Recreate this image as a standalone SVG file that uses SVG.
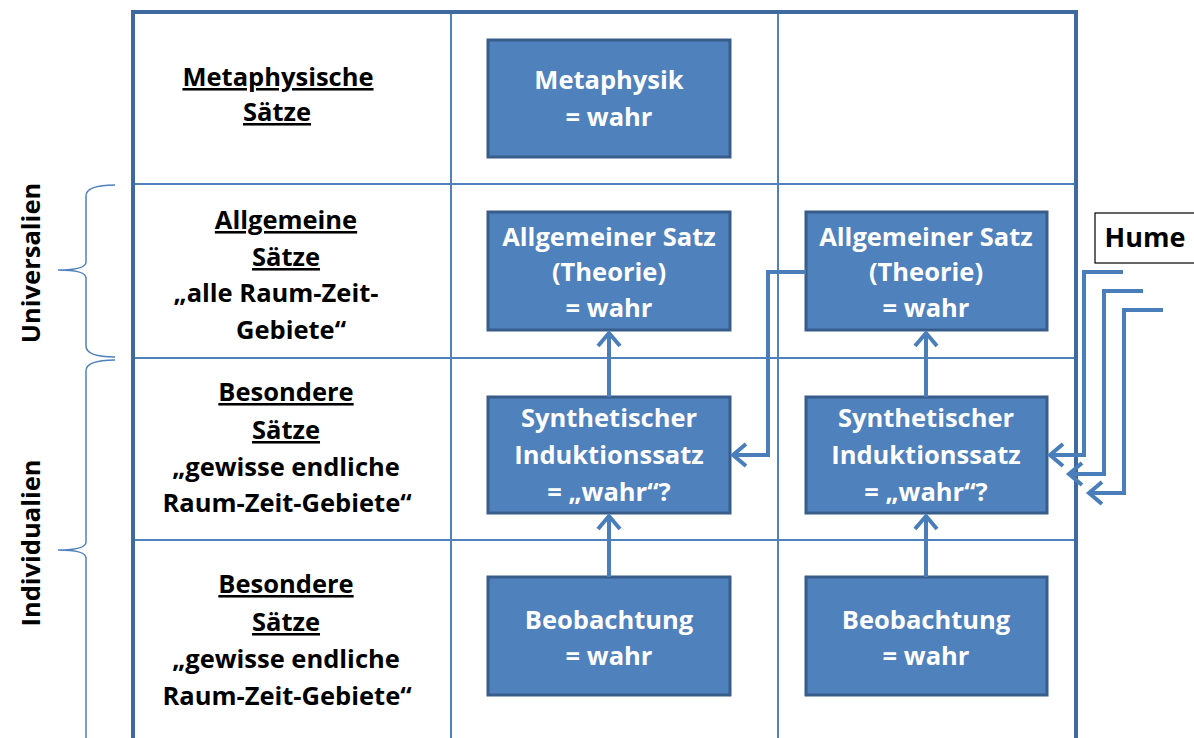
<svg xmlns="http://www.w3.org/2000/svg" width="1194" height="738" viewBox="0 0 1194 738">
  <style>
    .grid { fill: none; stroke: #4f81bd; stroke-width: 2; }
    .frame { fill: none; stroke: #3e6aa0; stroke-width: 4; }
    .box { fill: #4f81bd; stroke: #385d8a; stroke-width: 3; }
    .bt { font-family: "Open Sans", "Liberation Sans", sans-serif; font-weight: bold; font-size: 25.5px; fill: #ffffff; text-anchor: middle; }
    .lt { font-family: "Open Sans", "Liberation Sans", sans-serif; font-weight: bold; font-size: 25.5px; fill: #000000; text-anchor: middle; }
    .u { text-decoration: underline; }
    .conn { fill: none; stroke: #4a7ebb; stroke-width: 4; stroke-linejoin: miter; }
    .brace { fill: none; stroke: #4f81bd; stroke-width: 1.5; }
  </style>
  <defs>
    <marker id="open" markerUnits="userSpaceOnUse" markerWidth="30" markerHeight="30" refX="0" refY="0" viewBox="-16 -15 20 30" orient="auto" overflow="visible">
      <path d="M -13 -11 L 0 0 L -13 11" fill="none" stroke="#4a7ebb" stroke-width="4"/>
    </marker>
  </defs>

  <rect width="1194" height="738" fill="#ffffff"/>

  <!-- table grid -->
  <g id="table">
    <line class="grid" x1="451" y1="12" x2="451" y2="738"/>
    <line class="grid" x1="778" y1="12" x2="778" y2="738"/>
    <line class="grid" x1="133" y1="184" x2="1076" y2="184"/>
    <line class="grid" x1="133" y1="358" x2="1076" y2="358"/>
    <line class="grid" x1="133" y1="540" x2="1076" y2="540"/>
    <path class="frame" d="M133,740 L133,12 L1076,12 L1076,740"/>
  </g>

  <!-- side braces -->
  <g id="universalien">
    <path class="brace" d="M115,185 Q86,185 86,196 L86,262 Q86,270 58,270 Q86,270 86,278 L86,346 Q86,357 115,357"/>
    <text class="lt" transform="translate(40,263) rotate(-90)">Universalien</text>
  </g>
  <g id="individualien">
    <path class="brace" d="M115,360 Q86,360 86,371 L86,542 Q86,550 58,550 Q86,550 86,558 L86,740"/>
    <text class="lt" transform="translate(40,543) rotate(-90)">Individualien</text>
  </g>

  <!-- row labels -->
  <g id="label-metaphysisch">
    <text class="lt u" x="278" y="86">Metaphysische</text>
    <text class="lt u" x="277" y="121">Sätze</text>
  </g>
  <g id="label-allgemein">
    <text class="lt u" x="286" y="229">Allgemeine</text>
    <text class="lt u" x="286" y="266">Sätze</text>
    <text class="lt" x="276" y="302">„alle Raum-Zeit-</text>
    <text class="lt" x="291" y="339">Gebiete“</text>
  </g>
  <g id="label-besonders-1">
    <text class="lt u" x="286" y="401">Besondere</text>
    <text class="lt u" x="286" y="439">Sätze</text>
    <text class="lt" x="286" y="476">„gewisse endliche</text>
    <text class="lt" x="287" y="512">Raum-Zeit-Gebiete“</text>
  </g>
  <g id="label-besonders-2">
    <text class="lt u" x="286" y="593">Besondere</text>
    <text class="lt u" x="286" y="631">Sätze</text>
    <text class="lt" x="286" y="668">„gewisse endliche</text>
    <text class="lt" x="287" y="705">Raum-Zeit-Gebiete“</text>
  </g>

  <!-- nodes -->
  <g id="metaphysik">
    <rect class="box" x="488" y="40" width="242" height="117"/>
    <text class="bt" x="609" y="89">Metaphysik</text>
    <text class="bt" x="609" y="126">= wahr</text>
  </g>
  <g id="theorie-1">
    <rect class="box" x="488" y="212" width="242" height="118"/>
    <text class="bt" x="609" y="246">Allgemeiner Satz</text>
    <text class="bt" x="609" y="281">(Theorie)</text>
    <text class="bt" x="609" y="317">= wahr</text>
  </g>
  <g id="theorie-2">
    <rect class="box" x="806" y="212" width="241" height="118"/>
    <text class="bt" x="926" y="246">Allgemeiner Satz</text>
    <text class="bt" x="926" y="281">(Theorie)</text>
    <text class="bt" x="926" y="317">= wahr</text>
  </g>
  <g id="induktion-1">
    <rect class="box" x="488" y="397" width="242" height="116"/>
    <text class="bt" x="609" y="427">Synthetischer</text>
    <text class="bt" x="609" y="464">Induktionssatz</text>
    <text class="bt" x="609" y="501">= „wahr“?</text>
  </g>
  <g id="induktion-2">
    <rect class="box" x="806" y="397" width="241" height="116"/>
    <text class="bt" x="926" y="427">Synthetischer</text>
    <text class="bt" x="926" y="464">Induktionssatz</text>
    <text class="bt" x="926" y="501">= „wahr“?</text>
  </g>
  <g id="beobachtung-1">
    <rect class="box" x="488" y="577" width="242" height="118"/>
    <text class="bt" x="609" y="629">Beobachtung</text>
    <text class="bt" x="609" y="665">= wahr</text>
  </g>
  <g id="beobachtung-2">
    <rect class="box" x="806" y="577" width="241" height="118"/>
    <text class="bt" x="926" y="629">Beobachtung</text>
    <text class="bt" x="926" y="665">= wahr</text>
  </g>
  <g id="hume">
    <rect x="1095" y="213" width="110" height="50" fill="#ffffff" stroke="#000000" stroke-width="1.2"/>
    <text class="lt" x="1145" y="247" style="font-size:27px">Hume</text>
  </g>

  <!-- connectors -->
  <g id="connectors">
    <path class="conn" d="M609,577 L609,516" marker-end="url(#open)"/>
    <path class="conn" d="M609,397 L609,333" marker-end="url(#open)"/>
    <path class="conn" d="M926,577 L926,516" marker-end="url(#open)"/>
    <path class="conn" d="M926,397 L926,333" marker-end="url(#open)"/>
    <path class="conn" d="M806,272 L768,272 L768,455 L733,455" marker-end="url(#open)"/>
    <path class="conn" d="M1123,272 L1084,272 L1084,455 L1050,455" marker-end="url(#open)"/>
    <path class="conn" d="M1143,291 L1104,291 L1104,474 L1069,474" marker-end="url(#open)"/>
    <path class="conn" d="M1163,310 L1124,310 L1124,493 L1089,493" marker-end="url(#open)"/>
  </g>
</svg>
